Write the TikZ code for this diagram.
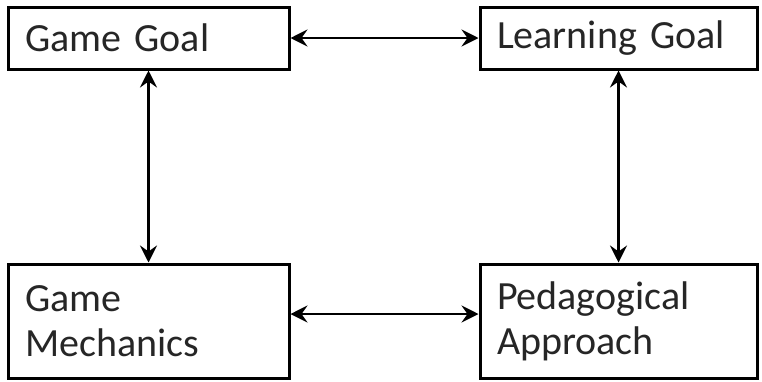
\documentclass[tikz,border=0pt]{standalone}
\usepackage{fontspec}
\setmainfont{Carlito}
\usetikzlibrary{arrows.meta}
\begin{document}
\begin{tikzpicture}[x=1pt,y=-1pt,
  box/.style={draw=black,line width=3pt,rectangle,inner xsep=17pt,inner ysep=0pt,
    align=left,font=\fontsize{40}{45}\selectfont,text=black!85},
  tip/.style={Stealth[length=17pt,width=17pt,inset=6pt]},
  link/.style={line width=2.6pt,{Stealth[length=17pt,width=17pt,inset=6pt]}-{Stealth[length=17pt,width=17pt,inset=6pt]}}]
\useasboundingbox (0,0) rectangle (762,381);
\node[box,minimum width=281pt,minimum height=62pt,text width=247pt] (gg) at (148.5,38) {Game Goal};
\node[box,minimum width=277pt,minimum height=62pt,text width=243pt] (lg) at (618.5,38) {Learning Goal};
\node[box,minimum width=281pt,minimum height=114pt,text width=247pt] (gm) at (148.5,321) {Game\\Mechanics};
\node[box,minimum width=277pt,minimum height=114pt,text width=243pt] (pa) at (618.5,321) {Pedagogical\\Approach};
\draw[link] (gg) -- (lg);
\draw[link] (gg) -- (gm);
\draw[link] (lg) -- (pa);
\draw[link] ([yshift=7pt]gm.east) -- ([yshift=7pt]pa.west);
\end{tikzpicture}
\end{document}
